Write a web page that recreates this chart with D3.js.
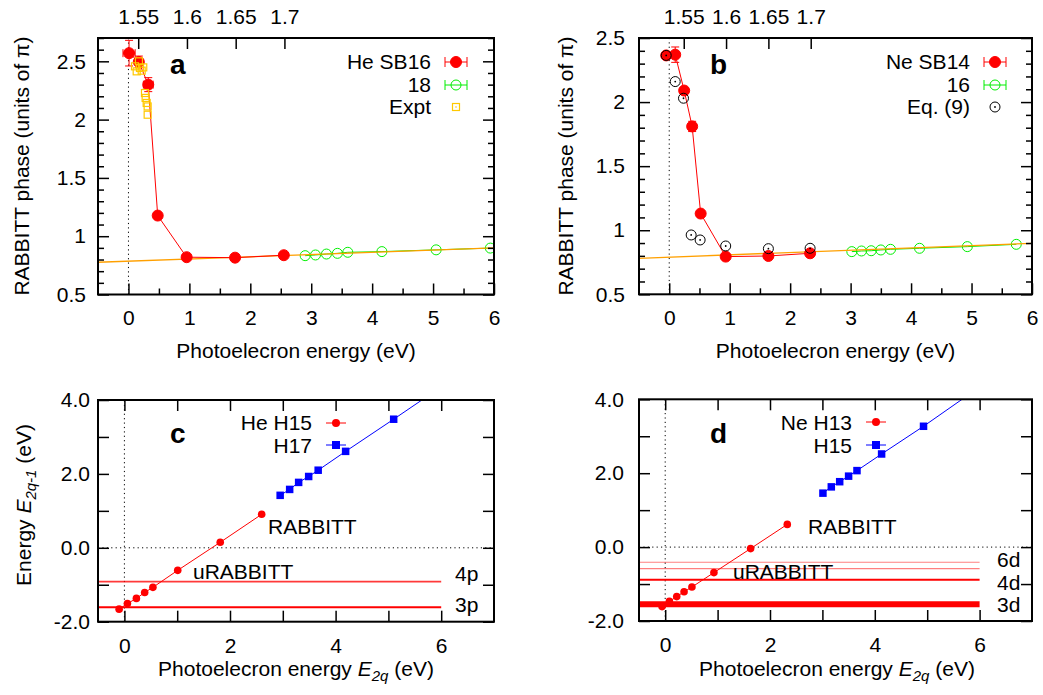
<!DOCTYPE html>
<html>
<head>
<meta charset="utf-8">
<script src="https://cdn.jsdelivr.net/npm/d3@7"></script>
<style>
  body { margin: 0; background: #fff; }
  svg { display: block; }
</style>
</head>
<body>
<svg id="fig" width="1043" height="695"></svg>
<script>
// ---- panel a: He RABBITT phase ----
const heSB16x  = [0.01, 0.17, 0.325, 0.48, 0.955, 1.75, 2.55];
const heSB16y  = [2.57, 2.495, 2.30, 1.177, 0.82, 0.816, 0.837];
const heSB16ex = [0.10, 0.06, 0.08, 0.04, 0.03, 0.03, 0.03];
const heSB16ey = [0.11, 0.05, 0.06, 0.02, 0.02, 0.01, 0.02];
const heSB18x  = [2.90, 3.07, 3.25, 3.43, 3.60, 4.16, 5.05, 5.94];
const heSB18y  = [0.833, 0.839, 0.847, 0.853, 0.862, 0.868, 0.883, 0.898];
const exptX    = [0.172, 0.107, 0.189, 0.243, 0.135, 0.217, 0.271, 0.282, 0.299, 0.315, 0.315];
const exptY    = [2.50, 2.457, 2.443, 2.448, 2.414, 2.42, 2.228, 2.186, 2.143, 2.113, 2.042];
const heFit    = [0.786, 0.0189];          // intercept, slope
const heTop    = [1.55, 1.6, 1.65, 1.7];   // photon energy ticks
const heIp     = 24.64, heQ = 16;

// ---- panel b: Ne RABBITT phase ----
const neSB14x  = [-0.05, 0.099, 0.247, 0.379, 0.52, 0.934, 1.64, 2.33];
const neSB14y  = [2.364, 2.37, 2.09, 1.81, 1.13, 0.794, 0.799, 0.82];
const neSB14ex = [0, 0.03, 0.02, 0.02, 0.02, 0.02, 0.02, 0.02];
const neSB14ey = [0, 0.06, 0.02, 0.04, 0.02, 0.02, 0.01, 0.02];
const neSB16x  = [3.02, 3.18, 3.34, 3.50, 3.66, 4.14, 4.93, 5.74];
const neSB16y  = [0.833, 0.838, 0.84, 0.846, 0.851, 0.859, 0.872, 0.89];
const eq9x     = [-0.05, 0.099, 0.236, 0.363, 0.511, 0.934, 1.64, 2.33];
const eq9y     = [2.364, 2.16, 2.03, 0.963, 0.924, 0.877, 0.856, 0.859];
const neFit    = [0.79, 0.018];
const neTop    = [1.55, 1.6, 1.65, 1.7];
const neIp     = 21.46, neQ = 14;

// ---- panel c: He harmonic energies ----
const heH15x = [-0.10, 0.057, 0.227, 0.384, 0.54, 1.01, 1.815, 2.60];
const heH15y = [-1.66, -1.51, -1.37, -1.21, -1.07, -0.61, 0.149, 0.906];
const heH17x = [2.95, 3.13, 3.30, 3.49, 3.67, 4.19, 5.10, 6.20];
const heH17y = [1.42, 1.58, 1.77, 1.93, 2.10, 2.61, 3.48, 4.55];
const heLevels   = [-0.917, -1.61];
const heLevelStr = [1, 1.6];

// ---- panel d: Ne harmonic energies ----
const neH13x = [-0.06, 0.08, 0.22, 0.36, 0.51, 0.93, 1.63, 2.33];
const neH13y = [-1.61, -1.47, -1.34, -1.21, -1.08, -0.69, -0.04, 0.615];
const neH15x = [3.01, 3.17, 3.33, 3.50, 3.66, 4.13, 4.93, 6.20];
const neH15y = [1.46, 1.63, 1.77, 1.92, 2.07, 2.52, 3.27, 4.53];
const neLevels   = [-0.41, -0.58, -0.885, -1.55];
const neLevelStr = [0.5, 0.5, 1.4, 6];

const FONT = '"Liberation Sans", Arial, Helvetica, sans-serif';
const FS = 21;
const RED = '#ff0000', GREEN = '#00ee00', GOLD = '#ffc800', BLUE = '#0000ff', ORANGE = '#ffa000';

const svg = d3.select('#fig').attr('font-family', FONT);
svg.append('rect').attr('width', 1043).attr('height', 695).attr('fill', '#fff');

function panel(id, f, xd, yd) {
  const x = d3.scaleLinear().domain(xd).range([f.l, f.r]);
  const y = d3.scaleLinear().domain(yd).range([f.b, f.t]);
  svg.append('clipPath').attr('id', 'clip-' + id).append('rect')
    .attr('x', f.l).attr('y', f.t).attr('width', f.r - f.l).attr('height', f.b - f.t);
  const g = svg.append('g').attr('clip-path', `url(#clip-${id})`);
  return {x, y, f, g};
}

function ticks(axisFn, scale, vals, size, tr, fmt, pad) {
  const ax = axisFn(scale).tickValues(vals).tickSize(-size).tickPadding(pad || 0)
    .tickFormat(fmt || (() => ''));
  const g = svg.append('g').attr('transform', tr).call(ax)
    .attr('font-family', FONT).attr('font-size', FS);
  g.select('.domain').remove();
  g.selectAll('line').attr('stroke', '#000').attr('stroke-width', 1.5);
  g.selectAll('text').attr('fill', '#000');
  return g;
}

function frame(p) {
  const f = p.f;
  svg.append('rect').attr('x', f.l).attr('y', f.t).attr('width', f.r - f.l).attr('height', f.b - f.t)
    .attr('fill', 'none').attr('stroke', '#000').attr('stroke-width', 2);
}

function dotted(p, x1, y1, x2, y2) {
  p.g.append('line').attr('x1', p.x(x1)).attr('y1', p.y(y1)).attr('x2', p.x(x2)).attr('y2', p.y(y2))
    .attr('stroke', '#000').attr('stroke-width', 1).attr('stroke-dasharray', '1.2,3.2');
}

function series(p, xs, ys, color, width) {
  const pts = xs.map((v, i) => [v, ys[i]]);
  p.g.append('path').datum(pts)
    .attr('d', d3.line().x(d => p.x(d[0])).y(d => p.y(d[1])))
    .attr('fill', 'none').attr('stroke', color).attr('stroke-width', width || 1);
  return pts;
}

function errbars(p, xs, ys, exs, eys, color) {
  const g = p.g.append('g').attr('stroke', color).attr('stroke-width', 1);
  xs.forEach((v, i) => {
    const cx = p.x(v), cy = p.y(ys[i]);
    if (exs[i] > 0) {
      const a = p.x(v - exs[i]), b = p.x(v + exs[i]);
      g.append('line').attr('x1', a).attr('x2', b).attr('y1', cy).attr('y2', cy);
      g.append('line').attr('x1', a).attr('x2', a).attr('y1', cy - 4).attr('y2', cy + 4);
      g.append('line').attr('x1', b).attr('x2', b).attr('y1', cy - 4).attr('y2', cy + 4);
    }
    if (eys[i] > 0) {
      const a = p.y(ys[i] - eys[i]), b = p.y(ys[i] + eys[i]);
      g.append('line').attr('x1', cx).attr('x2', cx).attr('y1', a).attr('y2', b);
      g.append('line').attr('x1', cx - 4).attr('x2', cx + 4).attr('y1', a).attr('y2', a);
      g.append('line').attr('x1', cx - 4).attr('x2', cx + 4).attr('y1', b).attr('y2', b);
    }
  });
}

function circles(p, xs, ys, r, fill, stroke, sw) {
  p.g.append('g').selectAll('circle').data(xs.map((v, i) => [v, ys[i]])).join('circle')
    .attr('cx', d => p.x(d[0])).attr('cy', d => p.y(d[1])).attr('r', r)
    .attr('fill', fill).attr('stroke', stroke).attr('stroke-width', sw || 1);
}

function squares(p, xs, ys, s, fill, stroke, sw) {
  p.g.append('g').selectAll('rect').data(xs.map((v, i) => [v, ys[i]])).join('rect')
    .attr('x', d => p.x(d[0]) - s / 2).attr('y', d => p.y(d[1]) - s / 2)
    .attr('width', s).attr('height', s)
    .attr('fill', fill).attr('stroke', stroke).attr('stroke-width', sw || 1);
}

function fitLine(p, fit) {
  const xd = p.x.domain();
  p.g.append('line')
    .attr('x1', p.x(xd[0])).attr('y1', p.y(fit[0] + fit[1] * xd[0]))
    .attr('x2', p.x(xd[1])).attr('y2', p.y(fit[0] + fit[1] * xd[1]))
    .attr('stroke', ORANGE).attr('stroke-width', 1.3);
}

function text(x, y, s, opts) {
  const t = svg.append('text').attr('x', x).attr('y', y).attr('font-size', (opts && opts.size) || FS)
    .attr('text-anchor', (opts && opts.anchor) || 'start').attr('fill', '#000').text(s);
  if (opts && opts.bold) t.attr('font-weight', 'bold');
  return t;
}

// legend sample with error-bar caps
function legendSample(cx, cy, color, kind) {
  const g = svg.append('g');
  if (kind === 'err' || kind === 'errOpen') {
    g.append('line').attr('x1', cx - 11).attr('x2', cx + 11).attr('y1', cy).attr('y2', cy).attr('stroke', color);
    [cx - 11, cx + 11].forEach(xx => g.append('line').attr('x1', xx).attr('x2', xx)
      .attr('y1', cy - 5).attr('y2', cy + 5).attr('stroke', color));
    g.append('circle').attr('cx', cx).attr('cy', cy).attr('r', kind === 'err' ? 5.5 : 5)
      .attr('fill', kind === 'err' ? color : 'none').attr('stroke', color);
  } else if (kind === 'sq') {
    g.append('rect').attr('x', cx - 3.5).attr('y', cy - 3.5).attr('width', 7).attr('height', 7)
      .attr('fill', 'none').attr('stroke', color).attr('stroke-width', 1.2);
    g.append('circle').attr('cx', cx).attr('cy', cy).attr('r', 0.8).attr('fill', color);
  } else if (kind === 'eq') {
    g.append('circle').attr('cx', cx).attr('cy', cy).attr('r', 5).attr('fill', 'none').attr('stroke', '#000');
    g.append('circle').attr('cx', cx).attr('cy', cy).attr('r', 0.9).attr('fill', '#000');
  } else if (kind === 'dot' || kind === 'box') {
    g.append('line').attr('x1', cx - 10).attr('x2', cx + 10).attr('y1', cy).attr('y2', cy).attr('stroke', color);
    if (kind === 'dot') g.append('circle').attr('cx', cx).attr('cy', cy).attr('r', 4).attr('fill', color);
    else g.append('rect').attr('x', cx - 4).attr('y', cy - 4).attr('width', 8).attr('height', 8).attr('fill', color);
  }
}

const range = (a, b, s) => d3.range(Math.round((b - a) / s) + 1).map(i => +(a + i * s).toFixed(3));

// ================= panels a, b =================
function phasePanel(id, f, yd, yPad, d) {
  const p = panel(id, f, [-0.5, 6], yd);
  const yMaj = [0.5, 1, 1.5, 2, 2.5];
  const yMin = range(0.5, yd[1], 0.1).filter(v => !yMaj.includes(v));
  ticks(d3.axisLeft, p.y, yMaj, 11, `translate(${f.l},0)`, d3.format(''), yPad);
  ticks(d3.axisLeft, p.y, yMin, 6, `translate(${f.l},0)`);
  ticks(d3.axisRight, p.y, yMaj, 11, `translate(${f.r},0)`);
  ticks(d3.axisRight, p.y, yMin, 6, `translate(${f.r},0)`);
  ticks(d3.axisBottom, p.x, d3.range(0, 7), 11, `translate(0,${f.b})`, d3.format('d'), 16);
  ticks(d3.axisBottom, p.x, d3.range(0.5, 6, 1), 6, `translate(0,${f.b})`);
  const top = d3.scaleLinear()
    .domain(p.x.domain().map(v => (v + d.ip) / d.q)).range(p.x.range());
  ticks(d3.axisTop, top, d.top, 11, `translate(0,${f.t})`, d3.format(''), 14);
  dotted(p, 0, yd[0], 0, yd[1]);
  return p;
}

const pa = phasePanel('a', {l: 98, r: 494, t: 38, b: 294.5}, [0.5, 2.7], 12, {ip: heIp, q: heQ, top: heTop});
series(pa, heSB18x, heSB18y, GREEN);
circles(pa, heSB18x, heSB18y, 5, 'none', GREEN, 1);
fitLine(pa, heFit);
series(pa, heSB16x, heSB16y, RED);
errbars(pa, heSB16x, heSB16y, heSB16ex, heSB16ey, RED);
circles(pa, heSB16x, heSB16y, 5.5, RED, RED, 1);
squares(pa, exptX, exptY, 7, 'none', GOLD, 1.2);
frame(pa);
text(170, 74, 'a', {bold: true, size: 28});
text(431, 69, 'He SB16', {anchor: 'end'});
text(431, 92, '18', {anchor: 'end'});
text(431, 114, 'Expt', {anchor: 'end'});
legendSample(456, 62, RED, 'err');
legendSample(456, 85, GREEN, 'errOpen');
legendSample(456, 107, GOLD, 'sq');

const pb = phasePanel('b', {l: 639, r: 1032, t: 38, b: 294.3}, [0.5, 2.5], 14, {ip: neIp, q: neQ, top: neTop});
series(pb, neSB16x, neSB16y, GREEN);
circles(pb, neSB16x, neSB16y, 5, 'none', GREEN, 1);
fitLine(pb, neFit);
series(pb, neSB14x, neSB14y, RED);
errbars(pb, neSB14x, neSB14y, neSB14ex, neSB14ey, RED);
circles(pb, neSB14x, neSB14y, 5.5, RED, RED, 1);
circles(pb, eq9x, eq9y, 5, 'none', '#000', 1);
circles(pb, eq9x, eq9y, 0.9, '#000', 'none', 0);
frame(pb);
text(710, 74, 'b', {bold: true, size: 28});
text(970, 69, 'Ne SB14', {anchor: 'end'});
text(970, 92, '16', {anchor: 'end'});
text(970, 114, 'Eq. (9)', {anchor: 'end'});
legendSample(995, 62, RED, 'err');
legendSample(995, 85, GREEN, 'errOpen');
legendSample(995, 107, '#000', 'eq');

// x and y titles for the top row
[296, 835.5].forEach(cx => {
  text(cx, 358, 'Photoelecron energy (eV)', {anchor: 'middle'});
});
[[29, 166], [573, 166]].forEach(([x, y]) => {
  svg.append('text').attr('transform', `translate(${x},${y}) rotate(-90)`)
    .attr('text-anchor', 'middle').attr('font-size', FS).text('RABBITT phase (units of \u03c0)');
});

// ================= panels c, d =================
function energyPanel(id, f, yPad) {
  const p = panel(id, f, [-0.5, 7], [-2, 4]);
  const yAll = d3.range(-2, 5);
  ticks(d3.axisLeft, p.y, [-2, 0, 2, 4], 11, `translate(${f.l},0)`, d => d.toFixed(1), yPad);
  ticks(d3.axisLeft, p.y, [-1, 1, 3], 11, `translate(${f.l},0)`);
  ticks(d3.axisRight, p.y, yAll, 11, `translate(${f.r},0)`);
  ticks(d3.axisBottom, p.x, [0, 2, 4, 6], 11, `translate(0,${f.b})`, d3.format('d'), 16);
  ticks(d3.axisBottom, p.x, [1, 3, 5], 11, `translate(0,${f.b})`);
  ticks(d3.axisTop, p.x, d3.range(0, 7), 11, `translate(0,${f.t})`);
  dotted(p, 0, -2, 0, 4);
  dotted(p, -0.5, 0, 7, 0);
  return p;
}

function levels(p, ys, strength) {
  const w = d3.scaleLinear().domain([0.5, 6]).range([1.2, 6]);
  const op = d3.scaleLinear().domain([0.5, 1.4]).range([0.5, 1]).clamp(true);
  ys.forEach((v, i) => {
    p.g.append('line').attr('x1', p.x(-0.5)).attr('x2', p.x(6))
      .attr('y1', p.y(v)).attr('y2', p.y(v))
      .attr('stroke', RED).attr('stroke-opacity', op(strength[i])).attr('stroke-width', w(strength[i]));
  });
}

const pc = energyPanel('c', {l: 98, r: 494, t: 400, b: 621.7}, 8);
levels(pc, heLevels, heLevelStr);
series(pc, heH15x, heH15y, RED);
circles(pc, heH15x, heH15y, 3.8, RED, 'none', 0);
series(pc, heH17x, heH17y, BLUE);
squares(pc, heH17x, heH17y, 7.5, BLUE, 'none', 0);
frame(pc);
text(170, 443, 'c', {bold: true, size: 28});
text(312, 430, 'He H15', {anchor: 'end'});
text(312, 453, 'H17', {anchor: 'end'});
legendSample(336, 423, RED, 'dot');
legendSample(336, 445, BLUE, 'box');
text(268, 534, 'RABBITT');
text(193, 579, 'uRABBITT');
text(455, 581, '4p');
text(455, 612, '3p');

const pd = energyPanel('d', {l: 639, r: 1032, t: 399.3, b: 621}, 15);
levels(pd, neLevels, neLevelStr);
series(pd, neH13x, neH13y, RED);
circles(pd, neH13x, neH13y, 3.8, RED, 'none', 0);
series(pd, neH15x, neH15y, BLUE);
squares(pd, neH15x, neH15y, 7.5, BLUE, 'none', 0);
frame(pd);
text(710, 443, 'd', {bold: true, size: 28});
text(852, 430, 'Ne H13', {anchor: 'end'});
text(852, 453, 'H15', {anchor: 'end'});
legendSample(876, 422, RED, 'dot');
legendSample(876, 445, BLUE, 'box');
text(808, 534, 'RABBITT');
text(733, 579, 'uRABBITT');
text(997, 567, '6d');
text(997, 590, '4d');
text(997, 612, '3d');

// x titles with subscripts
[296, 837].forEach(cx => {
  const t = svg.append('text').attr('x', cx).attr('y', 676).attr('text-anchor', 'middle').attr('font-size', FS);
  t.append('tspan').text('Photoelecron energy ');
  t.append('tspan').attr('font-style', 'italic').text('E');
  t.append('tspan').attr('font-style', 'italic').attr('font-size', 15).attr('dy', 5).text('2q');
  t.append('tspan').attr('dy', -5).text(' (eV)');
});
{
  const t = svg.append('text').attr('transform', 'translate(31,505) rotate(-90)')
    .attr('text-anchor', 'middle').attr('font-size', FS);
  t.append('tspan').text('Energy ');
  t.append('tspan').attr('font-style', 'italic').text('E');
  t.append('tspan').attr('font-style', 'italic').attr('font-size', 15).attr('dy', 5).text('2q-1');
  t.append('tspan').attr('dy', -5).text(' (eV)');
}
</script>
</body>
</html>
